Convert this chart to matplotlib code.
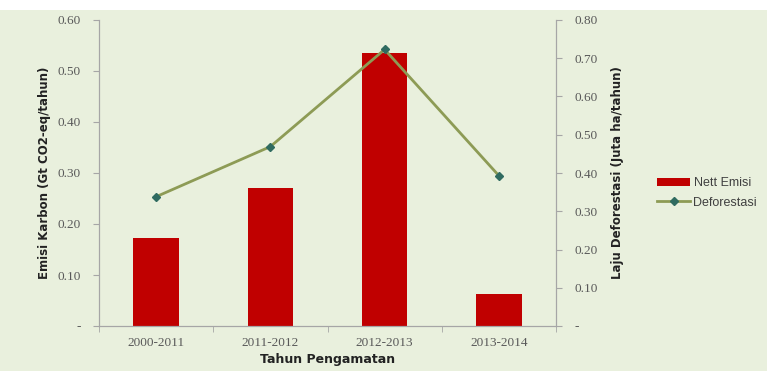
import matplotlib.pyplot as plt
import matplotlib.ticker as mticker
from matplotlib.patches import Rectangle

periods = ['2000-2011', '2011-2012', '2012-2013', '2013-2014']
nett_emisi = [0.172, 0.270, 0.535, 0.063]     # Gt CO2-eq/tahun
deforestasi = [0.338, 0.469, 0.723, 0.393]    # juta ha/tahun

bg = '#e9f0dd'
spine_c = '#a6a6a6'
tick_c = '#595959'

fig = plt.figure(figsize=(7.67, 3.71), dpi=100, facecolor=bg)
fig.patches.append(Rectangle((0, 1 - 10 / 371), 1, 10 / 371, transform=fig.transFigure,
                             facecolor='white', edgecolor='none', zorder=0))

ax = fig.add_axes([99 / 767, 45 / 371, 457 / 767, 306 / 371])
ax.set_facecolor(bg)
ax2 = ax.twinx()

x = range(len(periods))
ax.bar(x, nett_emisi, width=0.4, color='#c00000', label='Nett Emisi', zorder=2)
ax2.plot(x, deforestasi, color='#8d9b55', lw=2, marker='D', ms=4.5,
         mfc='#2f6b60', mec='#2f6b60', label='Deforestasi', zorder=3)

ax.set_xlim(-0.5, 3.5)
ax.set_ylim(0, 0.6)
ax2.set_ylim(0, 0.8)


def dash_zero(v, pos):
    return '-' if abs(v) < 1e-9 else '%.2f' % v


ax.yaxis.set_major_locator(mticker.MultipleLocator(0.1))
ax2.yaxis.set_major_locator(mticker.MultipleLocator(0.1))
ax.yaxis.set_major_formatter(mticker.FuncFormatter(dash_zero))
ax2.yaxis.set_major_formatter(mticker.FuncFormatter(dash_zero))

ax.set_xticks(list(x))
ax.set_xticklabels(periods)
ax.set_xticks([-0.5, 0.5, 1.5, 2.5, 3.5], minor=True)
ax.tick_params(axis='x', which='major', length=0, pad=8)
ax.tick_params(axis='x', which='minor', length=4, color=spine_c)

for a in (ax, ax2):
    for s in a.spines.values():
        s.set_color(spine_c)
    a.spines['top'].set_visible(False)
    a.tick_params(axis='y', length=4, color=spine_c, pad=9)
    for lab in a.get_xticklabels() + a.get_yticklabels():
        lab.set_fontfamily('Liberation Serif')
        lab.set_fontsize(9.5)
        lab.set_color(tick_c)

ax.set_ylabel('Emisi Karbon (Gt CO2-eq/tahun)', fontsize=8.5, fontweight='bold',
              color='#222222', labelpad=5)
ax2.set_ylabel('Laju Deforestasi (Juta ha/tahun)', fontsize=8.5, fontweight='bold',
               color='#222222', labelpad=10)
ax.set_xlabel('Tahun Pengamatan', fontsize=9, fontweight='bold', color='#222222', labelpad=3)

h1, l1 = ax.get_legend_handles_labels()
h2, l2 = ax2.get_legend_handles_labels()
fig.legend(h1 + h2, l1 + l2, loc='center left', bbox_to_anchor=(646 / 767, 1 - 193 / 371),
           frameon=False, handlelength=2.6, handletextpad=0.3, labelspacing=0.6,
           prop={'family': 'Liberation Sans', 'size': 9}, labelcolor='#404040')

fig.savefig('out.png', dpi=100, facecolor=bg)
